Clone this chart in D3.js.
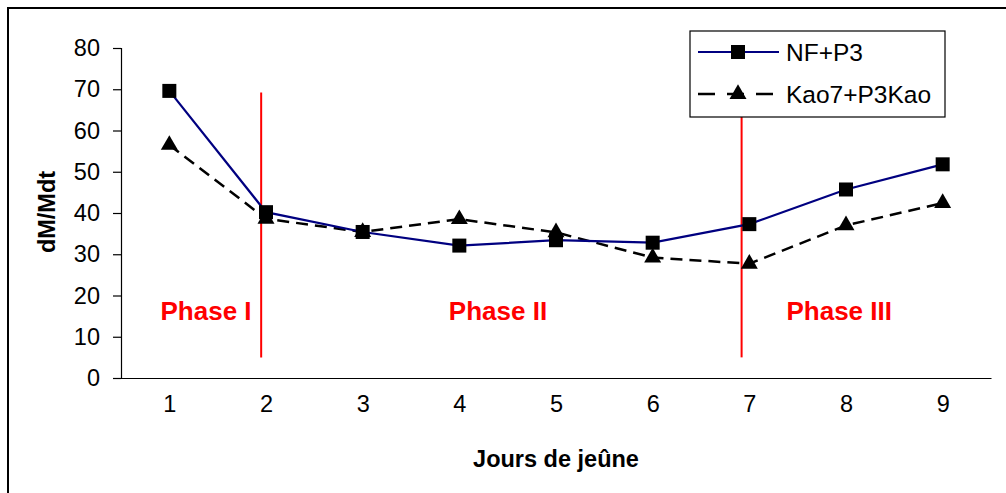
<!DOCTYPE html>
<html lang="fr">
<head>
<meta charset="UTF-8">
<script src="https://d3js.org/d3.v7.min.js"></script>
<title>dM/Mdt - Jours de jeûne</title>
<style>
  body { margin: 0; background: #fff; }
  text { font-family: "Liberation Sans", Arial, sans-serif; }
</style>
</head>
<body>
<script>
// data
const days = [1, 2, 3, 4, 5, 6, 7, 8, 9];
const nfP3 = [69.6, 40.2, 35.4, 32.1, 33.4, 32.8, 37.3, 45.7, 51.8];
const kaoP3Kao = [56.5, 38.6, 35.4, 38.5, 35.3, 29.2, 27.7, 37.0, 42.4];
const yTicks = [0, 10, 20, 30, 40, 50, 60, 70, 80];
const seriesNames = ["NF+P3", "Kao7+P3Kao"];

// red phase separators (x in day units, y in data units)
const phaseLines = [
  { x: 1.95, y0: 5, y1: 69.2 },
  { x: 6.92, y0: 5, y1: 63.3 }
];
const phaseLabels = ["Phase I", "Phase II", "Phase III"];
const phaseLabelX = [1.38, 4.4, 7.93];
const phaseLabelY = 14;

const W = 1006, H = 493;
const svg = d3.select("body").append("svg")
  .attr("width", W).attr("height", H);

// outer frame (runs off the right and bottom of the picture)
svg.append("rect")
  .attr("x", 8).attr("y", 8)
  .attr("width", 1020).attr("height", 500)
  .attr("fill", "none").attr("stroke", "#000").attr("stroke-width", 2);

const plotLeft = 121, plotRight = 991, plotTop = 48, plotBottom = 378;

const x = d3.scaleLinear().domain([0.5, 9.5]).range([plotLeft, plotRight]);
const y = d3.scaleLinear().domain([0, 80]).range([plotBottom, plotTop]);

// y axis
const yAxis = svg.append("g")
  .attr("transform", "translate(" + plotLeft + ",0)")
  .call(d3.axisLeft(y).tickValues(yTicks).tickSize(8).tickPadding(13));
yAxis.select(".domain").attr("stroke", "#000").attr("stroke-width", 1.2);
yAxis.selectAll(".tick line").attr("stroke", "#000").attr("stroke-width", 1.2);
yAxis.selectAll("text").attr("font-size", 23.5).attr("fill", "#000")
  .style("font-family", "'Liberation Sans', Arial, sans-serif");

// x axis (no tick marks)
const xAxis = svg.append("g")
  .attr("transform", "translate(0," + plotBottom + ")")
  .call(d3.axisBottom(x).tickValues(days).tickSize(0).tickPadding(17)
    .tickFormat(d3.format("d")).tickSizeOuter(0));
xAxis.select(".domain").attr("stroke", "#000").attr("stroke-width", 1.2);
xAxis.selectAll("text").attr("font-size", 23.5).attr("fill", "#000")
  .style("font-family", "'Liberation Sans', Arial, sans-serif");

// axis titles
svg.append("text")
  .attr("x", 556).attr("y", 467)
  .attr("text-anchor", "middle")
  .attr("font-size", 23.5).attr("font-weight", "bold")
  .text("Jours de jeûne");

svg.append("text")
  .attr("transform", "translate(55,212) rotate(-90)")
  .attr("text-anchor", "middle")
  .attr("font-size", 23.5).attr("font-weight", "bold")
  .text("dM/Mdt");

// phase separators and labels
svg.selectAll(".phase-line").data(phaseLines).enter().append("line")
  .attr("class", "phase-line")
  .attr("x1", d => x(d.x)).attr("x2", d => x(d.x))
  .attr("y1", d => y(d.y1)).attr("y2", d => y(d.y0))
  .attr("stroke", "#ff0000").attr("stroke-width", 2);

svg.selectAll(".phase-label").data(phaseLabels).enter().append("text")
  .attr("class", "phase-label")
  .attr("x", (d, i) => x(phaseLabelX[i]))
  .attr("y", y(phaseLabelY))
  .attr("text-anchor", "middle")
  .attr("font-size", 26).attr("font-weight", "bold")
  .attr("fill", "#ff0000")
  .text(d => d);

// series
const line = d3.line().x((d, i) => x(days[i])).y(d => y(d));

svg.append("path")
  .datum(kaoP3Kao)
  .attr("d", line)
  .attr("fill", "none").attr("stroke", "#000")
  .attr("stroke-width", 2.5).attr("stroke-dasharray", "12,7");

svg.append("path")
  .datum(nfP3)
  .attr("d", line)
  .attr("fill", "none").attr("stroke", "#000080")
  .attr("stroke-width", 2.2);

const tri = d3.symbol().type(d3.symbolTriangle).size(125);
svg.selectAll(".tri").data(kaoP3Kao).enter().append("path")
  .attr("class", "tri")
  .attr("transform", (d, i) => "translate(" + x(days[i]) + "," + y(d) + ")")
  .attr("d", tri).attr("fill", "#000");

svg.selectAll(".sq").data(nfP3).enter().append("rect")
  .attr("class", "sq")
  .attr("x", (d, i) => x(days[i]) - 7).attr("y", d => y(d) - 7)
  .attr("width", 14).attr("height", 14)
  .attr("fill", "#000");

// legend
const lg = svg.append("g");
lg.append("rect")
  .attr("x", 690).attr("y", 31).attr("width", 255).attr("height", 86)
  .attr("fill", "#fff").attr("stroke", "#000").attr("stroke-width", 1.2);

lg.append("line")
  .attr("x1", 698).attr("x2", 779).attr("y1", 52).attr("y2", 52)
  .attr("stroke", "#000080").attr("stroke-width", 2.2);
lg.append("rect")
  .attr("x", 731).attr("y", 45).attr("width", 14).attr("height", 14)
  .attr("fill", "#000");

lg.append("line")
  .attr("x1", 698).attr("x2", 779).attr("y1", 94).attr("y2", 94)
  .attr("stroke", "#000").attr("stroke-width", 2.5)
  .attr("stroke-dasharray", "17,12");
lg.append("path")
  .attr("transform", "translate(738,94)")
  .attr("d", tri).attr("fill", "#000");

lg.selectAll(".lg-text").data(seriesNames).enter().append("text")
  .attr("class", "lg-text")
  .attr("x", 786).attr("y", (d, i) => 61 + i * 42)
  .attr("font-size", 24.5)
  .text(d => d);
</script>
</body>
</html>
